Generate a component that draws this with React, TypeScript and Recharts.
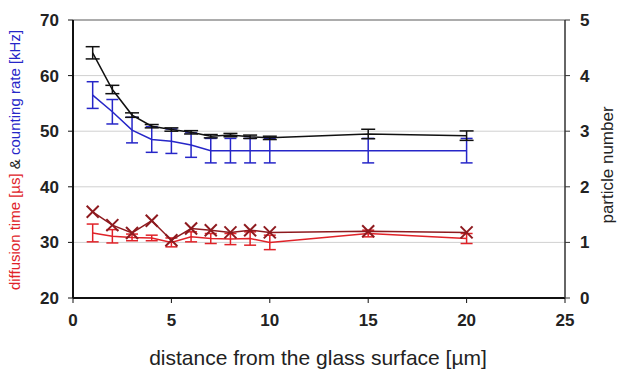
import React from 'react';
import { ComposedChart, Line, XAxis, YAxis, CartesianGrid, ErrorBar, ReferenceLine } from 'recharts';

const distances = [1, 2, 3, 4, 5, 6, 7, 8, 9, 10, 15, 20];
const particleNumber = [4.41, 3.75, 3.29, 3.09, 3.03, 2.98, 2.91, 2.93, 2.9, 2.88, 2.95, 2.92];
const particleErr = [0.11, 0.075, 0.04, 0.03, 0.03, 0.03, 0.03, 0.03, 0.03, 0.03, 0.085, 0.085];
const countingRate = [56.5, 53.5, 50.2, 48.5, 48.2, 47.5, 46.5, 46.5, 46.5, 46.5, 46.5, 46.5];
const countingErr = [2.4, 2.2, 2.3, 2.3, 2.2, 2.2, 2.2, 2.2, 2.2, 2.2, 2.2, 2.2];
const diffusionTime = [31.7, 31.1, 30.9, 30.8, 30.0, 31.0, 30.7, 30.6, 30.7, 30.0, 31.6, 30.7];
const diffusionErr = [1.6, 1.2, 0.6, 0.5, 0.8, 0.9, 0.9, 1.0, 1.2, 1.3, 0.6, 0.9];
const diffusionCross = [35.5, 33.1, 31.7, 33.9, 30.4, 32.5, 32.2, 31.8, 32.2, 31.8, 32.0, 31.8];

const xTicks = [0, 5, 10, 15, 20, 25];
const leftTicks = [20, 30, 40, 50, 60, 70];
const rightTicks = [0, 1, 2, 3, 4, 5];

const data = distances.map((d, i) => ({
  d,
  pn: particleNumber[i],
  pnErr: particleErr[i],
  cr: countingRate[i],
  crErr: countingErr[i],
  dt: diffusionTime[i],
  dtErr: diffusionErr[i],
  dx: diffusionCross[i],
}));

const font = '"Liberation Sans", Arial, sans-serif';
const tickStyle = { fontSize: 17, fill: '#222', fontFamily: font, fontWeight: 'bold' as const };

const Cross = (props: any) => {
  const { cx, cy } = props;
  if (cx == null || cy == null) return null;
  const s = 6;
  return (
    <g stroke="#8e1a1f" strokeWidth={2}>
      <line x1={cx - s} y1={cy - s} x2={cx + s} y2={cy + s} />
      <line x1={cx - s} y1={cy + s} x2={cx + s} y2={cy - s} />
    </g>
  );
};

export default function App() {
  return (
    <div style={{ width: 622, height: 369, background: '#fff' }}>
      <style>{'body{margin:0}'}</style>
      <ComposedChart width={622} height={369} data={data} margin={{ top: 20, right: 0, bottom: 0, left: 0 }}>
        <CartesianGrid vertical={false} stroke="#d0d0d0" yAxisId="left" />
        <ReferenceLine yAxisId="left" y={70} stroke="#999" strokeWidth={1.5} />
        <XAxis
          dataKey="d"
          type="number"
          domain={[0, 25]}
          ticks={xTicks}
          tick={tickStyle}
          tickSize={5}
          tickMargin={11}
          axisLine={{ stroke: '#111', strokeWidth: 2 }}
          tickLine={{ stroke: '#111' }}
          height={71}
          label={{
            content: () => (
              <text x={318} y={365} textAnchor="middle" fontSize={21} fill="#222" fontFamily={font}>
                distance from the glass surface [µm]
              </text>
            ),
          }}
        />
        <YAxis
          yAxisId="left"
          domain={[20, 70]}
          ticks={leftTicks}
          tick={tickStyle}
          tickSize={5}
          tickMargin={9}
          width={73}
          axisLine={{ stroke: '#111', strokeWidth: 2 }}
          tickLine={{ stroke: '#111' }}
          label={{
            content: () => (
              <text transform="translate(20,160) rotate(-90)" textAnchor="middle" fontSize={15} fontFamily={font}>
                <tspan fill="#e02228">diffusion time [µs]</tspan>
                <tspan fill="#222"> &amp; </tspan>
                <tspan fill="#2626c8">counting rate [kHz]</tspan>
              </text>
            ),
          }}
        />
        <YAxis
          yAxisId="right"
          orientation="right"
          domain={[0, 5]}
          ticks={rightTicks}
          tick={tickStyle}
          tickSize={5}
          tickMargin={10}
          width={57}
          axisLine={{ stroke: '#333', strokeWidth: 1.5 }}
          tickLine={{ stroke: '#333' }}
          label={{
            content: () => (
              <text transform="translate(613,165) rotate(-90)" textAnchor="middle" fontSize={17} fill="#222" fontFamily={font}>
                particle number
              </text>
            ),
          }}
        />
        <Line yAxisId="left" dataKey="dt" stroke="#e02228" strokeWidth={1.5} dot={false} isAnimationActive={false}>
          <ErrorBar dataKey="dtErr" width={6} stroke="#e02228" strokeWidth={1.5} direction="y" />
        </Line>
        <Line yAxisId="left" dataKey="dx" stroke="#8e1a1f" strokeWidth={1.5} dot={<Cross />} isAnimationActive={false} />
        <Line yAxisId="left" dataKey="cr" stroke="#2626c8" strokeWidth={1.5} dot={false} isAnimationActive={false}>
          <ErrorBar dataKey="crErr" width={6} stroke="#2626c8" strokeWidth={1.5} direction="y" />
        </Line>
        <Line yAxisId="right" dataKey="pn" stroke="#111" strokeWidth={1.5} dot={false} isAnimationActive={false}>
          <ErrorBar dataKey="pnErr" width={7} stroke="#111" strokeWidth={1.5} direction="y" />
        </Line>
      </ComposedChart>
    </div>
  );
}
